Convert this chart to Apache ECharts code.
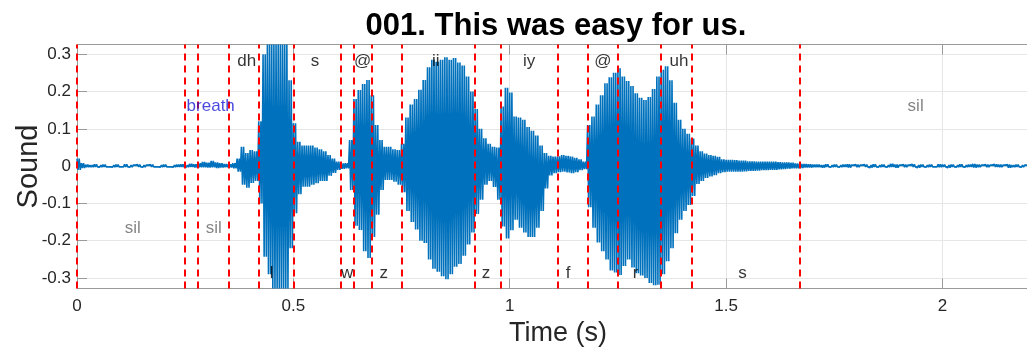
<!DOCTYPE html>
<html>
<head>
<meta charset="utf-8">
<script src="https://cdn.jsdelivr.net/npm/echarts@6/dist/echarts.min.js"></script>
<style>
  html, body { margin: 0; padding: 0; background: #fff; }
  #chart { width: 1027px; height: 347px; }
</style>
</head>
<body>
<div id="chart"></div>
<script>
// Utterance and its waveform envelope (peak high / peak low per 10 ms frame)
const titleText = '001. This was easy for us.';
const sampleStep = 0.01;

const peakHigh = [
  0.020, 0.008, 0.004, 0.003, 0.005, 0.003, 0.004, 0.003, 0.003, 0.004,
  0.003, 0.005, 0.003, 0.003, 0.004, 0.003, 0.003, 0.004, 0.003, 0.003,
  0.004, 0.003, 0.003, 0.004, 0.005, 0.003, 0.006, 0.005, 0.008, 0.011,
  0.009, 0.014, 0.010, 0.008, 0.006, 0.005, 0.008, 0.020, 0.052, 0.035,
  0.043, 0.040, 0.120, 0.300, 0.326, 0.326, 0.326, 0.326, 0.326, 0.230,
  0.115, 0.065, 0.055, 0.055, 0.055, 0.050, 0.045, 0.040, 0.030, 0.020,
  0.012, 0.007, 0.008, 0.070, 0.180, 0.204, 0.220, 0.231, 0.190, 0.110,
  0.070, 0.052, 0.052, 0.045, 0.043, 0.060, 0.130, 0.165, 0.180, 0.205,
  0.231, 0.265, 0.285, 0.280, 0.285, 0.292, 0.285, 0.290, 0.278, 0.270,
  0.240, 0.200, 0.153, 0.100, 0.075, 0.060, 0.052, 0.050, 0.160, 0.210,
  0.197, 0.133, 0.130, 0.124, 0.105, 0.095, 0.082, 0.055, 0.035, 0.028,
  0.026, 0.026, 0.030, 0.028, 0.026, 0.022, 0.018, 0.012, 0.110, 0.133,
  0.165, 0.190, 0.222, 0.238, 0.250, 0.262, 0.240, 0.228, 0.215, 0.195,
  0.183, 0.177, 0.185, 0.207, 0.240, 0.258, 0.268, 0.230, 0.170, 0.124,
  0.100, 0.087, 0.074, 0.055, 0.040, 0.034, 0.030, 0.028, 0.025, 0.018,
  0.017, 0.017, 0.016, 0.015, 0.015, 0.013, 0.013, 0.012, 0.012, 0.012,
  0.012, 0.012, 0.011, 0.010, 0.010, 0.009, 0.007, 0.006, 0.006, 0.005,
  0.004, 0.004, 0.003, 0.005, 0.003, 0.004, 0.003, 0.004, 0.005, 0.003,
  0.004, 0.003, 0.004, 0.003, 0.005, 0.003, 0.004, 0.003, 0.006, 0.004,
  0.003, 0.004, 0.003, 0.005, 0.003, 0.004, 0.003, 0.004, 0.003, 0.005,
  0.004, 0.003, 0.004, 0.003, 0.005, 0.003, 0.004, 0.006, 0.004, 0.003,
  0.004, 0.003, 0.005, 0.004, 0.003, 0.004, 0.003, 0.004, 0.003, 0.003, 0.004
];

const peakLow = [
  -0.010, -0.005, -0.003, -0.003, -0.002, -0.003, -0.002, -0.002, -0.003, -0.002,
  -0.002, -0.002, -0.003, -0.002, -0.002, -0.003, -0.002, -0.002, -0.002, -0.003,
  -0.002, -0.002, -0.003, -0.002, -0.002, -0.003, -0.002, -0.004, -0.003, -0.003,
  -0.004, -0.003, -0.005, -0.004, -0.003, -0.004, -0.006, -0.015, -0.050, -0.058,
  -0.045, -0.040, -0.100, -0.243, -0.290, -0.328, -0.328, -0.328, -0.328, -0.220,
  -0.126, -0.075, -0.055, -0.055, -0.050, -0.046, -0.040, -0.040, -0.026, -0.018,
  -0.010, -0.007, -0.006, -0.064, -0.160, -0.171, -0.228, -0.246, -0.190, -0.130,
  -0.064, -0.037, -0.037, -0.042, -0.050, -0.070, -0.120, -0.150, -0.170, -0.200,
  -0.206, -0.250, -0.275, -0.283, -0.295, -0.303, -0.290, -0.270, -0.262, -0.240,
  -0.210, -0.178, -0.128, -0.090, -0.050, -0.040, -0.056, -0.090, -0.162, -0.194,
  -0.172, -0.144, -0.165, -0.178, -0.190, -0.190, -0.165, -0.120, -0.060, -0.025,
  -0.019, -0.016, -0.015, -0.017, -0.019, -0.016, -0.011, -0.008, -0.110, -0.165,
  -0.205, -0.228, -0.250, -0.280, -0.285, -0.292, -0.268, -0.250, -0.272, -0.287,
  -0.293, -0.300, -0.313, -0.319, -0.318, -0.290, -0.255, -0.220, -0.180, -0.144,
  -0.120, -0.104, -0.080, -0.048, -0.040, -0.032, -0.028, -0.024, -0.019, -0.016,
  -0.015, -0.015, -0.015, -0.015, -0.014, -0.013, -0.013, -0.012, -0.011, -0.011,
  -0.010, -0.010, -0.009, -0.008, -0.007, -0.006, -0.006, -0.005, -0.004, -0.004,
  -0.003, -0.003, -0.004, -0.002, -0.003, -0.002, -0.003, -0.002, -0.004, -0.002,
  -0.003, -0.002, -0.002, -0.004, -0.002, -0.003, -0.002, -0.003, -0.002, -0.004,
  -0.002, -0.003, -0.002, -0.002, -0.004, -0.002, -0.003, -0.002, -0.002, -0.003,
  -0.002, -0.004, -0.002, -0.003, -0.002, -0.003, -0.002, -0.004, -0.003, -0.002,
  -0.003, -0.002, -0.002, -0.003, -0.002, -0.004, -0.003, -0.002, -0.003, -0.002, -0.002
];

// Segment boundaries (s)
const boundaries = [0, 0.25, 0.28, 0.35, 0.42, 0.50, 0.61, 0.64, 0.68, 0.75,
                    0.92, 0.98, 1.11, 1.18, 1.25, 1.35, 1.42, 1.67];

// Segment labels, their time positions and the tier (upper / lower) they sit in
const segLabels = ['sil', 'breath', 'sil', 'dh', 'l', 's', 'w', '@', 'z', 'ii',
                   'z', 'iy', 'f', '@', 'r', 'uh', 's', 'sil'];
const labelTimes = [0.129, 0.309, 0.316, 0.392, 0.450, 0.550, 0.624, 0.660, 0.709, 0.829,
                    0.945, 1.045, 1.135, 1.215, 1.291, 1.391, 1.538, 1.938];
const labelTiers = ['lower', 'upper', 'lower', 'upper', 'lower', 'upper', 'lower', 'upper', 'lower', 'upper',
                    'lower', 'upper', 'lower', 'upper', 'lower', 'upper', 'lower', 'upper'];

// ---- styling ----
const FONT = 'Liberation Sans';
const AXIS_GREY = '#9a9a9a';
const TEXT_DARK = '#262626';
const WAVE_BLUE = '#0072BD';
const STROKES_PER_FRAME = 2;   // oscillation strokes drawn inside each 10 ms frame
const tierY = {
  phone: { upper: 0.281, lower: -0.287 },
  quiet: { upper: 0.160, lower: -0.166 }
};
const labelColor = { sil: '#666666', breath: '#1a1ad6' };

// zig-zag between the peak high and peak low of each frame
const wave = [];
peakHigh.forEach((h, i) => {
  const t = i * sampleStep;
  const sub = sampleStep / STROKES_PER_FRAME;
  for (let k = 0; k < STROKES_PER_FRAME; k++) {
    wave.push([t + k * sub, h]);
    wave.push([t + (k + 0.5) * sub, peakLow[i]]);
  }
});

const labelData = segLabels.map((txt, i) => {
  const quiet = (txt === 'sil' || txt === 'breath');
  const y = (quiet ? tierY.quiet : tierY.phone)[labelTiers[i]];
  return {
    value: [labelTimes[i], y],
    label: { formatter: txt, color: labelColor[txt] || '#000000' }
  };
});

const chart = echarts.init(document.getElementById('chart'), null, { renderer: 'canvas' });

chart.setOption({
  animation: false,
  backgroundColor: '#ffffff',
  grid: {
    left: 77, right: -2, top: 44.5, bottom: 58.5,
    containLabel: false,
    outerBoundsMode: 'none'
  },
  graphic: [{
    type: 'text',
    x: 556,
    y: 26,
    z: 10,
    style: {
      text: titleText,
      font: 'bold 31px "' + FONT + '"',
      fill: '#000000',
      align: 'center',
      verticalAlign: 'middle'
    }
  }],
  xAxis: [{
    type: 'value',
    position: 'bottom',
    min: 0,
    max: 2.2,
    interval: 0.5,
    name: 'Time (s)',
    nameLocation: 'middle',
    nameGap: 32,
    nameMoveOverlap: false,
    nameTextStyle: { fontFamily: FONT, fontSize: 27, color: TEXT_DARK, padding: [0, 0, 0, 10] },
    axisLine: { show: true, onZero: false, lineStyle: { color: AXIS_GREY, width: 1 } },
    axisTick: { show: true, inside: true, length: 10, lineStyle: { color: AXIS_GREY } },
    axisLabel: { fontFamily: FONT, fontSize: 17, color: TEXT_DARK, margin: 9, showMaxLabel: false },
    splitLine: { show: true, lineStyle: { color: '#e6e6e6', width: 1 } }
  }, {
    type: 'value',
    position: 'top',
    min: 0,
    max: 2.2,
    interval: 0.5,
    axisLine: { show: true, onZero: false, lineStyle: { color: AXIS_GREY, width: 1 } },
    axisTick: { show: true, inside: true, length: 10, lineStyle: { color: AXIS_GREY } },
    axisLabel: { show: false },
    splitLine: { show: false }
  }],
  yAxis: [{
    type: 'value',
    min: -0.328,
    max: 0.326,
    splitNumber: 6,
    name: 'Sound',
    nameLocation: 'middle',
    nameGap: 34,
    nameMoveOverlap: false,
    nameRotate: 90,
    nameTextStyle: { fontFamily: FONT, fontSize: 29, color: TEXT_DARK },
    axisLine: { show: true, onZero: false, lineStyle: { color: AXIS_GREY, width: 1 } },
    axisTick: { show: true, inside: true, length: 10, lineStyle: { color: AXIS_GREY } },
    axisLabel: {
      fontFamily: FONT, fontSize: 17, color: TEXT_DARK, margin: 6,
      showMinLabel: false, showMaxLabel: false,
      formatter: v => (Math.abs(v) < 1e-9 ? '0' : v.toFixed(1))
    },
    splitLine: { show: true, lineStyle: { color: '#e6e6e6', width: 1 } }
  }],
  series: [{
    name: 'waveform',
    type: 'line',
    xAxisIndex: 0,
    yAxisIndex: 0,
    data: wave,
    showSymbol: false,
    symbol: 'none',
    silent: true,
    z: 2,
    lineStyle: { color: WAVE_BLUE, width: 1.6 },
    areaStyle: { color: WAVE_BLUE, opacity: 1, origin: 0 }
  }, {
    name: 'boundaries',
    type: 'line',
    xAxisIndex: 0,
    yAxisIndex: 0,
    data: [],
    silent: true,
    z: 4,
    markLine: {
      silent: true,
      symbol: ['none', 'none'],
      label: { show: false },
      lineStyle: { color: '#ff0000', width: 2, type: [7, 5] },
      data: boundaries.map(b => ({ xAxis: b }))
    }
  }, {
    name: 'labels',
    type: 'scatter',
    xAxisIndex: 0,
    yAxisIndex: 0,
    symbolSize: 1,
    silent: true,
    z: 6,
    itemStyle: { color: 'transparent' },
    label: {
      show: true,
      position: 'inside',
      fontFamily: FONT,
      fontSize: 17,
      align: 'center',
      verticalAlign: 'middle'
    },
    data: labelData
  }]
});
</script>
</body>
</html>
